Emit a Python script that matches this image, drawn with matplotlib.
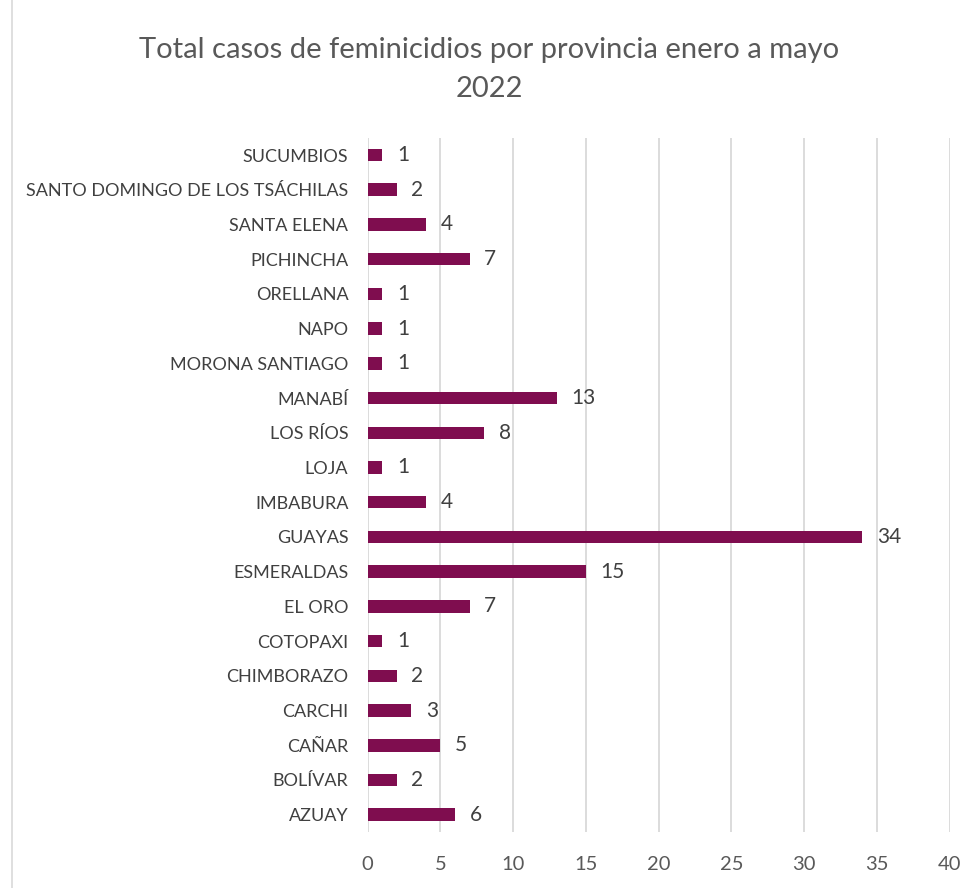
import matplotlib.pyplot as plt
from matplotlib.patches import Rectangle

provincias = ["AZUAY", "BOLÍVAR", "CAÑAR", "CARCHI", "CHIMBORAZO", "COTOPAXI",
              "EL ORO", "ESMERALDAS", "GUAYAS", "IMBABURA", "LOJA", "LOS RÍOS",
              "MANABÍ", "MORONA SANTIAGO", "NAPO", "ORELLANA", "PICHINCHA",
              "SANTA ELENA", "SANTO DOMINGO DE LOS TSÁCHILAS", "SUCUMBIOS"]
casos = [6, 2, 5, 3, 2, 1, 7, 15, 34, 4, 1, 8, 13, 1, 1, 1, 7, 4, 2, 1]
xticks = [0, 5, 10, 15, 20, 25, 30, 35, 40]

plt.rcParams['font.family'] = ['Lato', 'DejaVu Sans']

fig = plt.figure(figsize=(9.78, 8.88), dpi=100)
ax = fig.add_axes([0.376, 0.063, 0.595, 0.782])

pos = range(len(provincias))
ax.barh(pos, casos, height=0.36, color='#7F0D4F', zorder=3)
for i, v in enumerate(casos):
    ax.text(v + 1.0, i, str(v), va='center', ha='left', fontsize=15, color='#404040')

ax.set_xlim(0, 40)
ax.set_ylim(-0.5, len(provincias) - 0.5)
ax.set_yticks(list(pos))
ax.set_yticklabels(provincias, fontsize=13, color='#404040')
ax.set_xticks(xticks)
ax.set_xticklabels([str(t) for t in xticks], fontsize=14.5, color='#595959')
ax.tick_params(axis='y', length=0, pad=14)
ax.tick_params(axis='x', length=0, pad=17)
ax.grid(axis='x', color='#d9d9d9', linewidth=1.3, zorder=0)
for s in ax.spines.values():
    s.set_visible(False)

fig.text(0.5, 0.922, "Total casos de feminicidios por provincia enero a mayo\n2022",
         ha='center', va='center', fontsize=21, color='#595959', linespacing=1.6)

fig.patches.append(Rectangle((0.012, -0.01), 0.99, 1.02, transform=fig.transFigure,
                             fill=False, edgecolor='#d9d9d9', linewidth=1.2))

plt.savefig('out.png', dpi=100)
